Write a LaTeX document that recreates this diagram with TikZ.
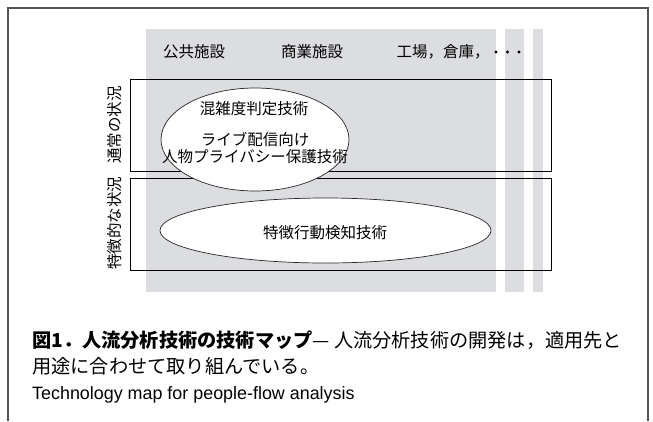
\documentclass[tikz,border=0pt]{standalone}
\usepackage{fontspec}
\setmainfont{Noto Sans CJK JP}
\newfontfamily\latinsans{Liberation Sans}
\usetikzlibrary{shapes.geometric}
\definecolor{colgray}{RGB}{220,221,224}
\definecolor{framegray}{RGB}{85,85,85}
\tikzset{
  lbl/.style={font=\fontsize{15.5}{18}\selectfont, inner sep=0pt},
  caption/.style={font=\fontsize{19.2}{22}\selectfont, inner sep=0pt, anchor=west},
  band/.style={draw=black, line width=1pt},
  oval/.style={ellipse, draw=black!85, line width=0.7pt, fill=white, inner sep=0pt},
  column/.style={fill=colgray, draw=none},
}
\begin{document}
\begin{tikzpicture}[x=1pt,y=-1pt]
\useasboundingbox (0,0) rectangle (653,421);
\fill[white] (0,0) rectangle (653,421);
% outer frame
\draw[framegray, line width=1.4pt] (8,421) -- (8,8) -- (648,8) -- (648,421);
% gray columns
\fill[column] (146,29) rectangle (496,292);
\fill[column] (505,29) rectangle (524,292);
\fill[column] (533,29) rectangle (543,292);
% column headers
\node[lbl] (h1) at (194,52) {公共施設};
\node[lbl] (h2) at (312,52) {商業施設};
\node[lbl] (h3) at (443,52) {工場，倉庫，};
\fill (496,52) circle (1.7pt);
\fill (507.5,52) circle (1.7pt);
\fill (519,52) circle (1.7pt);
% bands
\draw[band] (130,79) rectangle (551,171);
\draw[band] (130,178) rectangle (551,270);
\node[lbl, rotate=90] (r1) at (115,125) {通常の状況};
\node[lbl, rotate=90] (r2) at (115,223) {特徴的な状況};
% ellipses
\node[oval, minimum width=188pt, minimum height=103pt] (e1) at (255,139.5) {};
\node[oval, minimum width=331pt, minimum height=65pt] (e2) at (325.5,230.5) {};
\node[lbl] (t1) at (254,109) {混雑度判定技術};
\node[lbl] (t2) at (255,139) {ライブ配信向け};
\node[lbl] (t3) at (255,157) {人物プライバシー保護技術};
\node[lbl] (t4) at (325,233) {特徴行動検知技術};
% caption
\node[caption] (c1) at (32,340) {{\bfseries 図1．人流分析技術の技術マップ}— 人流分析技術の開発は，適用先と};
\node[caption] (c2) at (32,366) {用途に合わせて取り組んでいる。};
\node[caption, font=\latinsans\fontsize{17.9}{20}\selectfont] (c3) at (32,395) {Technology map for people-flow analysis};
\end{tikzpicture}
\end{document}
